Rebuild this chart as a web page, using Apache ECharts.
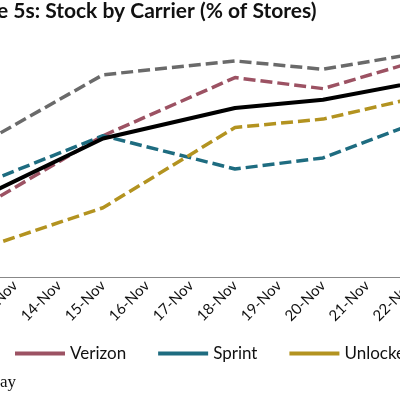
<!DOCTYPE html>
<html>
<head>
<meta charset="utf-8">
<script src="https://cdn.jsdelivr.net/npm/echarts@6/dist/echarts.min.js"></script>
<style>html,body{margin:0;padding:0;background:#fff}#main{width:400px;height:400px}</style>
</head>
<body>
<div id="main"></div>
<script>
var days = ['12-Nov','13-Nov','14-Nov','15-Nov','16-Nov','17-Nov','18-Nov','19-Nov','20-Nov','21-Nov','22-Nov','23-Nov'];
// % of stores with stock, null = no reading that day
var att      = [46, null, null, 73, null, null, 78, null, 75, null, null, 83];
var verizon  = [23, null, null, 51, null, null, 72, null, 68, null, null, 82];
var total    = [27, null, null, 50, null, null, 61, null, 64, null, null, 73];
var sprint   = [32, null, null, 51, null, null, 39, null, 43, null, null, 61];
var unlocked = [9,  null, null, 25, null, null, 54, null, 57, null, null, 68];

var chart = echarts.init(document.getElementById('main'));

function dashed(name, data, color) {
  return {
    name: name, type: 'line', data: data, connectNulls: true,
    symbol: 'none', lineStyle: { color: color, width: 3.5, type: [12, 5] },
    itemStyle: { color: color }
  };
}

var option = {
  animation: false,
  title: {
    text: 'iPhone 5s: Stock by Carrier (% of Stores)',
    left: -62, top: -4,
    textStyle: { fontFamily: 'Lato', fontWeight: 'bold', fontSize: 21, color: '#111' }
  },
  legend: {
    data: ['Verizon', 'Sprint', 'Unlocked'],
    left: 10, top: 340, width: 600,
    itemWidth: 50, itemHeight: 4, itemGap: 32,
    icon: 'rect',
    textStyle: { fontFamily: 'Lato', fontSize: 17, color: '#111' }
  },
  grid: { left: -51, right: -77, top: 0, bottom: 123, outerBoundsMode: 'none', containLabel: false },
  xAxis: {
    type: 'category', data: days, boundaryGap: true,
    axisLine: { lineStyle: { color: '#888' } },
    axisTick: { length: 5, lineStyle: { color: '#888' } },
    axisLabel: { rotate: 45, fontFamily: 'Lato', fontSize: 15, color: '#111', margin: 6 }
  },
  yAxis: { type: 'value', min: 0, max: 100, show: false, splitLine: { show: false } },
  graphic: [{
    type: 'text', left: 0, top: 374,
    style: { text: 'ay', font: '17px "Liberation Serif"', fill: '#111' }
  }],
  series: [
    dashed('AT&T', att, '#6a6a6a'),
    dashed('Verizon', verizon, '#9c5263'),
    dashed('Sprint', sprint, '#1e6c80'),
    dashed('Unlocked', unlocked, '#b39320'),
    { name: 'Total', type: 'line', data: total, connectNulls: true, symbol: 'none',
      lineStyle: { color: '#000', width: 4 }, itemStyle: { color: '#000' } }
  ]
};
chart.setOption(option);
</script>
</body>
</html>
